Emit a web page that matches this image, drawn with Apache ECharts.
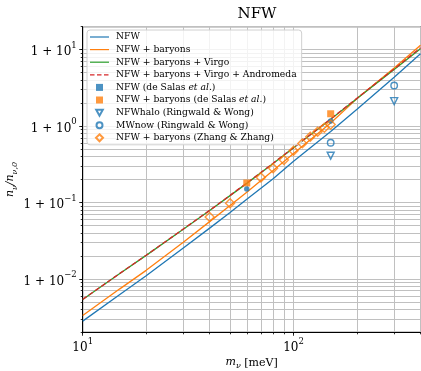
<!DOCTYPE html>
<html>
<head>
<meta charset="utf-8">
<script src="https://cdn.jsdelivr.net/npm/echarts@6/dist/echarts.min.js"></script>
<style>
  html, body { margin: 0; padding: 0; background: #fff; }
  #main { width: 421px; height: 371px; }
</style>
</head>
<body>
<div id="main"></div>
<script>
// neutrino mass grid [meV] for the curves
const massGrid = [10, 15, 20, 30, 40, 50, 60, 80, 100, 150, 200, 300, 400];
// overdensity n/n0 - 1 (axis labelled as 1 + 10^k)
const nfw = [0.0028, 0.00625, 0.0110, 0.0254, 0.0462, 0.0741, 0.110, 0.204, 0.347, 0.851, 1.66, 4.37, 8.87];
const nfwBaryons = [0.00332, 0.00741, 0.01294, 0.0302, 0.0562, 0.0912, 0.1365, 0.263, 0.437, 1.10, 2.29, 5.75, 11.4];
const nfwVirgo = [0.00537, 0.01175, 0.0203, 0.0447, 0.0785, 0.123, 0.178, 0.324, 0.519, 1.23, 2.29, 5.5, 10.3];
const nfwAndromeda = [0.0054, 0.0118, 0.0204, 0.0450, 0.0790, 0.124, 0.180, 0.327, 0.524, 1.24, 2.32, 5.6, 10.6];

// literature points
const deSalasMass = [60, 150];
const deSalasNfw = [0.15, 1.17];
const deSalasBaryons = [0.18, 1.45];
const ringwaldMass = [150, 300];
const ringwaldHalo = [0.41, 2.12];
const ringwaldMW = [0.605, 3.40];
const zhangMass = [40, 50, 70, 80, 90, 100, 110, 120, 130, 140, 150];
const zhangBaryons = [0.0645, 0.098, 0.212, 0.281, 0.36, 0.476, 0.594, 0.725, 0.843, 0.95, 1.05];

// ticks
const xMinorTicks = [10, 20, 30, 40, 50, 60, 70, 80, 90, 100, 200, 300, 400];
const xMajorTicks = [10, 100];
const yMinorTicks = [0.002, 0.003, 0.004, 0.005, 0.006, 0.007, 0.008, 0.009,
  0.01, 0.02, 0.03, 0.04, 0.05, 0.06, 0.07, 0.08, 0.09,
  0.1, 0.2, 0.3, 0.4, 0.5, 0.6, 0.7, 0.8, 0.9,
  1, 2, 3, 4, 5, 6, 7, 8, 9, 10, 20];
const yMajorTicks = [0.01, 0.1, 1, 10];

const blue = '#1f77b4', orange = '#ff7f0e', green = '#2ca02c', red = '#d62728';
const serif = 'DejaVu Serif';
const pairs = (xs, ys) => xs.map((x, i) => [x, ys[i]]);
const expOf = v => Math.round(Math.log10(v));
const supRich = {
  b: { fontFamily: serif, fontSize: 12, color: '#000', lineHeight: 17, verticalAlign: 'bottom' },
  s: { fontFamily: serif, fontSize: 8.5, color: '#000', lineHeight: 17, verticalAlign: 'top' }
};
const mathRich = {
  i: { fontFamily: serif, fontStyle: 'italic', fontSize: 11, color: '#000', lineHeight: 14, verticalAlign: 'top' },
  s: { fontFamily: serif, fontStyle: 'italic', fontSize: 8, color: '#000', lineHeight: 14, verticalAlign: 'bottom' }
};

// legend icons: the moveTo corners fix a 19x7 box so nothing gets stretched
const box = 'path://M0,0M19,7';
const solidIcon = box + 'M0,2.9L19,2.9L19,4.1L0,4.1Z';
const dashIcon = box + 'M0,2.9L4.5,2.9L4.5,4.1L0,4.1ZM7,2.9L11.5,2.9L11.5,4.1L7,4.1ZM14,2.9L18.5,2.9L18.5,4.1L14,4.1Z';
const squareIcon = box + 'M6,0L13,0L13,7L6,7Z';
const triDownIcon = box + 'M6.2,0.6L12.8,0.6L9.5,6.6Z';
const circleIcon = box + 'M6.5,3.5A3,3,0,1,1,12.5,3.5A3,3,0,1,1,6.5,3.5Z';
const diamondIcon = box + 'M9.5,0L13,3.5L9.5,7L6,3.5Z';

const chart = echarts.init(document.getElementById('main'));

const lineSeries = (name, data, color, dashed) => ({
  name, type: 'line', xAxisIndex: 0, yAxisIndex: 0,
  data: pairs(massGrid, data), symbol: 'none', silent: true,
  lineStyle: { color, width: 1.3, type: dashed ? [5, 2.5] : 'solid' },
  itemStyle: { color }
});
const openStyle = c => ({ color: 'rgba(255,255,255,0)', borderColor: c, borderWidth: 1.4 });

const option = {
  animation: false,
  backgroundColor: '#fff',
  title: {
    text: 'NFW', left: 252, top: 2, textAlign: 'center',
    textStyle: { fontFamily: serif, fontSize: 15, fontWeight: 'normal', color: '#000' }
  },
  grid: {
    left: 82.7, right: 0.5, top: 26.7, bottom: 38.7, outerBoundsMode: 'none', containLabel: false,
    show: true, borderColor: '#000', borderWidth: 1, backgroundColor: 'transparent'
  },
  legend: {
    orient: 'vertical', left: 87, top: 30,
    padding: [2, 5, 2, 2], itemGap: 2.6, itemWidth: 19, itemHeight: 7,
    backgroundColor: 'rgba(255,255,255,0.8)', borderColor: '#d0d0d0', borderWidth: 1, borderRadius: 3,
    textStyle: {
      fontFamily: serif, fontSize: 9.2, color: '#000', lineHeight: 10, padding: [0, 0, 0, 2],
      rich: { i: { fontFamily: serif, fontStyle: 'italic', fontSize: 9.2, lineHeight: 10 } }
    },
    formatter: name => name.replace('et al.', '{i|et al.}'),
    data: [
      { name: 'NFW', icon: solidIcon, itemStyle: { color: blue, borderWidth: 0 } },
      { name: 'NFW + baryons', icon: solidIcon, itemStyle: { color: orange, borderWidth: 0 } },
      { name: 'NFW + baryons + Virgo', icon: solidIcon, itemStyle: { color: green, borderWidth: 0 } },
      { name: 'NFW + baryons + Virgo + Andromeda', icon: dashIcon, itemStyle: { color: red, borderWidth: 0 } },
      { name: 'NFW (de Salas et al.)', icon: squareIcon },
      { name: 'NFW + baryons (de Salas et al.)', icon: squareIcon },
      { name: 'NFWhalo (Ringwald & Wong)', icon: triDownIcon },
      { name: 'MWnow (Ringwald & Wong)', icon: circleIcon },
      { name: 'NFW + baryons (Zhang & Zhang)', icon: diamondIcon }
    ]
  },
  xAxis: [
    {
      type: 'log', logBase: 10, min: 10, max: 400, position: 'bottom',
      axisLine: { show: true, lineStyle: { color: '#000', width: 1 } },
      axisTick: { show: true, inside: false, length: 2, customValues: xMinorTicks, lineStyle: { color: '#000', width: 0.8 } },
      axisLabel: { show: false },
      splitLine: { show: true, lineStyle: { color: '#c0c0c0', width: 1 } },
      name: '{i|m}{s|ν} [meV]', nameLocation: 'middle', nameGap: 24,
      nameTextStyle: { fontFamily: serif, fontSize: 11, color: '#000', rich: mathRich }
    },
    {
      type: 'log', logBase: 10, min: 10, max: 400, position: 'bottom', offset: 0,
      axisLine: { show: false },
      axisTick: { show: true, length: 3.5, customValues: xMajorTicks, lineStyle: { color: '#000', width: 0.8 } },
      axisLabel: {
        show: true, customValues: xMajorTicks, margin: 5,
        formatter: v => '{b|10}{s|' + expOf(v) + '}', rich: supRich
      },
      splitLine: { show: false }
    }
  ],
  yAxis: [
    {
      type: 'log', logBase: 10, min: 0.002, max: 20, position: 'left',
      axisLine: { show: true, lineStyle: { color: '#000', width: 1 } },
      axisTick: { show: true, length: 2, customValues: yMinorTicks, lineStyle: { color: '#000', width: 0.8 } },
      axisLabel: { show: false },
      splitLine: { show: true, lineStyle: { color: '#c0c0c0', width: 1 } },
      name: '{i|n}{s|ν}{i|/n}{s|ν,0}', nameLocation: 'middle', nameGap: 64, nameRotate: 90,
      nameTextStyle: { fontFamily: serif, fontSize: 11, color: '#000', rich: mathRich }
    },
    {
      type: 'log', logBase: 10, min: 0.002, max: 20, position: 'left', offset: 0,
      axisLine: { show: false },
      axisTick: { show: true, length: 3.5, customValues: yMajorTicks, lineStyle: { color: '#000', width: 0.8 } },
      axisLabel: {
        show: true, customValues: yMajorTicks, margin: 6,
        formatter: v => '{b|1 + 10}{s|' + String(expOf(v)).replace('-', '−') + '}', rich: supRich
      },
      splitLine: { show: false }
    }
  ],
  series: [
    lineSeries('NFW', nfw, blue, false),
    lineSeries('NFW + baryons', nfwBaryons, orange, false),
    lineSeries('NFW + baryons + Virgo', nfwVirgo, green, false),
    lineSeries('NFW + baryons + Virgo + Andromeda', nfwAndromeda, red, true),
    {
      name: 'NFW + baryons (de Salas et al.)', type: 'scatter', symbol: 'rect', symbolSize: 7,
      data: pairs(deSalasMass, deSalasBaryons), itemStyle: { color: orange }, z: 3
    },
    {
      name: 'NFW (de Salas et al.)', type: 'scatter', symbol: 'circle', symbolSize: 5.5,
      data: pairs(deSalasMass, deSalasNfw), itemStyle: { color: blue }, z: 4
    },
    {
      name: 'NFWhalo (Ringwald & Wong)', type: 'scatter', symbol: 'triangle', symbolRotate: 180, symbolSize: 7,
      data: pairs(ringwaldMass, ringwaldHalo), itemStyle: openStyle(blue), z: 4
    },
    {
      name: 'MWnow (Ringwald & Wong)', type: 'scatter', symbol: 'circle', symbolSize: 6.5,
      data: pairs(ringwaldMass, ringwaldMW), itemStyle: openStyle(blue), z: 4
    },
    {
      name: 'NFW + baryons (Zhang & Zhang)', type: 'scatter', symbol: 'diamond', symbolSize: 9,
      data: pairs(zhangMass, zhangBaryons), itemStyle: openStyle(orange), z: 4
    }
  ]
};
chart.setOption(option);
</script>
</body>
</html>
